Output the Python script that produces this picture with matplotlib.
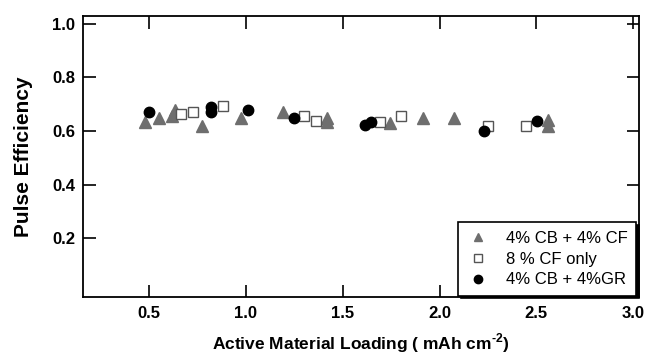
import matplotlib
matplotlib.use("Agg")
import matplotlib.pyplot as plt

plt.rcParams['font.family'] = ['Liberation Sans', 'DejaVu Sans']
plt.rcParams['mathtext.fontset'] = 'custom'
plt.rcParams['mathtext.rm'] = 'Liberation Sans:bold'
plt.rcParams['mathtext.bf'] = 'Liberation Sans:bold'

# Data
cbcf_x = [0.476, 0.55, 0.634, 0.62, 0.774, 0.974, 1.19, 1.42, 1.42, 1.743, 1.914, 2.074, 2.56, 2.56]
cbcf_y = [0.632, 0.649, 0.677, 0.655, 0.620, 0.647, 0.670, 0.647, 0.635, 0.630, 0.649, 0.649, 0.640, 0.620]

cf_x = [0.666, 0.729, 0.884, 1.30, 1.364, 1.695, 1.80, 2.25, 2.445]
cf_y = [0.662, 0.672, 0.694, 0.657, 0.637, 0.632, 0.655, 0.617, 0.617]

gr_x = [0.50, 0.82, 0.82, 1.009, 1.247, 1.617, 1.647, 2.23, 2.506]
gr_y = [0.670, 0.690, 0.670, 0.677, 0.650, 0.624, 0.634, 0.600, 0.636]

labels = ["4% CB + 4% CF", "8 % CF only", "4% CB + 4%GR"]
x_ticks = [0.5, 1.0, 1.5, 2.0, 2.5, 3.0]
y_ticks = [0.2, 0.4, 0.6, 0.8, 1.0]

fig = plt.figure(figsize=(6.48, 3.59), dpi=100)
ax = fig.add_axes([0.1286, 0.1719, 0.986 - 0.1286, 0.9563 - 0.1719])

ax.plot(cbcf_x, cbcf_y, linestyle='none', marker='^', markersize=8,
        color='#6e6e6e', markeredgecolor='#6e6e6e', label=labels[0])
ax.plot(cf_x, cf_y, linestyle='none', marker='s', markersize=6.5,
        markerfacecolor='white', markeredgecolor='#555555', markeredgewidth=1.0, label=labels[1])
ax.plot(gr_x, gr_y, linestyle='none', marker='o', markersize=7.5,
        color='black', label=labels[2])

ax.set_xlim(0.16, 3.03)
ax.set_ylim(-0.02, 1.03)
ax.set_xticks(x_ticks)
ax.set_yticks(y_ticks)
ax.set_xticklabels([f"{v:.1f}" for v in x_ticks], fontsize=12, fontweight='bold')
ax.set_yticklabels([f"{v:.1f}" for v in y_ticks], fontsize=12, fontweight='bold')
ax.tick_params(direction='in', length=9, width=1.2, top=True, right=True, pad=6)

for sp in ax.spines.values():
    sp.set_linewidth(1.3)

ax.set_xlabel("Active Material Loading ( mAh cm$^{\\text{-2}}$)", fontsize=12.5, fontweight='bold',
              labelpad=8)
ax.set_ylabel("Pulse Efficiency", fontsize=15, fontweight='bold', labelpad=14)

leg = ax.legend(loc='lower right', bbox_to_anchor=(1.004, -0.012), fontsize=12,
                frameon=True, fancybox=False, edgecolor='black', framealpha=1,
                shadow={'color': 'black', 'alpha': 1.0}, handletextpad=1.0, markerscale=0.8,
                borderpad=0.5, labelspacing=0.35, handlelength=1.4, borderaxespad=0.3)
leg.get_frame().set_linewidth(1.2)

fig.savefig("out.png", dpi=100)
